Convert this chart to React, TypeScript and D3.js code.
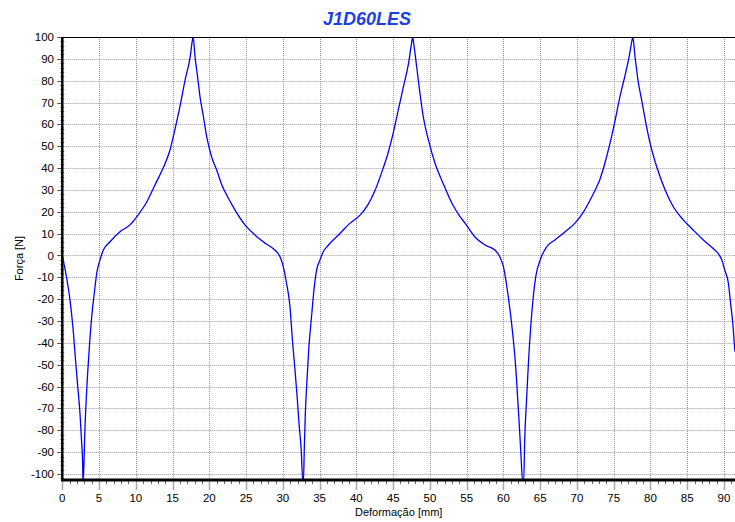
import React from "react";
import * as d3 from "d3";

// deformação [mm] / força [N]
const deformacao = [
  0, 0.6, 1.05, 1.5, 1.85, 2.1, 2.4, 2.64, 2.77, 2.8,
  2.86, 3.05, 3.3, 3.6, 4.0, 4.35, 4.68, 5.13, 5.58, 6.49, 7.85, 9.2, 10.3, 11.5, 12.6, 13.7, 14.65, 15.3, 16.0, 16.7, 17.4, 17.7, 17.8,
  18.05, 18.4, 18.73, 19.2, 19.64, 20.3, 21.0, 21.7, 22.6, 23.5, 24.85, 26.2, 27.6, 28.9, 29.6, 30.06, 30.5, 30.97, 31.3, 31.65, 31.95, 32.2, 32.5, 32.7,
  32.8, 32.92, 33.05, 33.25, 33.5, 33.9, 34.28, 34.6, 35.05, 35.5, 36.2, 37.8, 39.1, 40.5, 41.5, 42.5, 43.4, 44.3, 45.0, 45.7, 46.4, 47.1, 47.5, 47.66,
  47.8, 48.2, 48.65, 49.1, 49.8, 50.7, 51.8, 53.0, 54.1, 54.8, 56.1, 57.5, 58.85, 59.5, 60.0, 60.4, 60.9, 61.35, 61.7, 61.95, 62.2, 62.4, 62.6,
  62.76, 62.9, 63.15, 63.4, 63.75, 64.06, 64.4, 65.0, 65.9, 67.0, 68.4, 69.7, 70.9, 71.8, 72.7, 73.1, 73.8, 74.5, 75.2, 75.85, 76.5, 77.1, 77.5, 77.6,
  77.9, 78.3, 78.8, 79.3, 79.95, 80.85, 82.0, 83.1, 84.5, 85.8, 87.2, 88.5, 89.2, 89.7, 90.1, 90.6, 90.9, 91.2, 91.4, 91.5,
];
const forca = [
  0, -10.4, -20.4, -34.9, -50, -60, -72, -86, -95, -103,
  -103, -82, -63, -46, -28, -17.3, -8.2, -2, 2.5, 6.3, 10.9, 14, 18.5, 24.6, 32.3, 39.9, 48.3, 57.4, 68.1, 80.3, 91, 98.6, 100,
  91, 81.8, 72.7, 63.5, 54.4, 45.2, 39.1, 32.3, 26.2, 20.8, 14, 9.4, 5.6, 2.5, -0.5, -5.1, -12.7, -23.4, -38.7, -52.4, -65, -77, -89, -103,
  -103, -88, -73, -59, -44, -28, -14.3, -6.6, -2, 1.7, 4.8, 10.2, 14.7, 18.5, 22.8, 29.5, 37.6, 46.8, 55.9, 66.6, 77.3, 88, 97.1, 100,
  97, 86.4, 74.2, 63.5, 52.9, 42.2, 33, 23.9, 17.8, 14.7, 8.6, 4.8, 2.5, -0.5, -5.1, -12.7, -25, -38.7, -52.4, -66, -80, -92, -103,
  -103, -84, -66, -49.3, -31, -18.9, -9.7, -2, 4, 7.1, 10.9, 14.7, 20, 25.4, 31.5, 34.6, 42.2, 51.4, 62, 72.7, 81.8, 91, 98.6, 100,
  91, 80.3, 71.2, 62, 51.4, 40.6, 30, 22.3, 16.2, 11.7, 7.1, 3.3, 1, -2, -6.6, -12.7, -21.9, -31, -40.2, -44,
];

const xTicks = d3.range(0, 91, 5);
const yTicks = d3.range(-100, 101, 10);

const title = "J1D60LES";
const xLabel = "Deformação [mm]";
const yLabel = "Força [N]";

const W = 735;
const H = 522;
const left = 62.3;
const top = 37;
const right = 735;
const bottom = 480;
const font = "Arial, 'Liberation Sans', sans-serif";

export default function App() {
  const x = d3.scaleLinear().domain([0, 91.5]).range([left, right]);
  const y = d3.scaleLinear().domain([-102.75, 100]).range([bottom, top]);

  const pts: [number, number][] = deformacao.map((d, i) => [d, forca[i]]);
  const line = d3
    .line<[number, number]>()
    .x((d) => x(d[0]))
    .y((d) => y(d[1]))
    .curve(d3.curveMonotoneX);

  const xMinor = d3.range(0, 92, 1).filter((v) => v % 5 !== 0);
  const yMinor = d3.range(-102, 101, 2).filter((v) => v % 10 !== 0);

  return (
    <svg
      width={W}
      height={H}
      viewBox={`0 0 ${W} ${H}`}
      style={{ position: "absolute", left: 0, top: 0, background: "#fff" }}
    >
      <defs>
        <clipPath id="plot">
          <rect x={left} y={top} width={right - left} height={bottom - top} />
        </clipPath>
      </defs>

      {/* grid */}
      <g stroke="#9a9a9a" strokeWidth={1} strokeDasharray="1,1">
        {xTicks
          .filter((t) => t > 0)
          .map((t) => (
            <line key={"gx" + t} x1={Math.round(x(t)) + 0.5} x2={Math.round(x(t)) + 0.5} y1={top} y2={bottom} />
          ))}
        {yTicks
          .filter((t) => t < 100)
          .map((t) => (
            <line key={"gy" + t} x1={left} x2={right} y1={Math.round(y(t)) + 0.5} y2={Math.round(y(t)) + 0.5} />
          ))}
      </g>

      {/* curve */}
      <path
        d={line(pts) ?? ""}
        fill="none"
        stroke="#0000ff"
        strokeWidth={1.3}
        clipPath="url(#plot)"
      />

      {/* top frame */}
      <line x1={left} x2={right} y1={top + 0.5} y2={top + 0.5} stroke="#000" strokeWidth={1} />

      {/* y axis */}
      <g>
        {yTicks.map((t) => (
          <g key={"yt" + t}>
            <line x1={left - 5} x2={left} y1={Math.round(y(t)) + 0.5} y2={Math.round(y(t)) + 0.5} stroke="#555" strokeWidth={1} />
            <text
              x={54}
              y={y(t)}
              dy="0.35em"
              textAnchor="end"
              fontFamily={font}
              fontSize={11.5}
              fill="#000"
            >
              {t}
            </text>
          </g>
        ))}
        {yMinor.map((t) => (
          <line key={"ym" + t} x1={left - 2} x2={left + 2} y1={Math.round(y(t)) + 0.5} y2={Math.round(y(t)) + 0.5} stroke="#777" strokeWidth={1} />
        ))}
        <line x1={left} x2={left} y1={top} y2={bottom + 1} stroke="#000" strokeWidth={2.5} />
      </g>

      {/* x axis */}
      <g>
        {xMinor.map((t) => (
          <line key={"xm" + t} x1={Math.round(x(t)) + 0.5} x2={Math.round(x(t)) + 0.5} y1={bottom} y2={bottom + 4} stroke="#666" strokeWidth={1} />
        ))}
        {xTicks.map((t) => (
          <g key={"xt" + t}>
            <line x1={Math.round(x(t)) + 0.5} x2={Math.round(x(t)) + 0.5} y1={bottom} y2={bottom + 10} stroke="#a8a8a8" strokeWidth={1.5} />
            <text
              x={x(t)}
              y={502}
              textAnchor="middle"
              fontFamily={font}
              fontSize={11.5}
              fill="#000"
            >
              {t}
            </text>
          </g>
        ))}
        <line x1={left - 1} x2={right} y1={bottom} y2={bottom} stroke="#000" strokeWidth={3} />
      </g>

      {/* labels */}
      <text
        x={367}
        y={25}
        textAnchor="middle"
        fontFamily={font}
        fontSize={18}
        fontWeight="bold"
        fontStyle="italic"
        fill="#1f3fe6"
      >
        {title}
      </text>
      <text
        x={(left + right) / 2}
        y={516}
        textAnchor="middle"
        fontFamily={font}
        fontSize={11}
        fill="#000"
      >
        {xLabel}
      </text>
      <text
        transform={`translate(23,${(top + bottom) / 2}) rotate(-90)`}
        textAnchor="middle"
        fontFamily={font}
        fontSize={11}
        fill="#000"
      >
        {yLabel}
      </text>
    </svg>
  );
}
